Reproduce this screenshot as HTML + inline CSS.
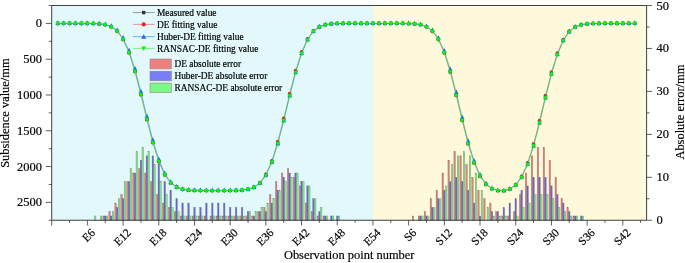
<!DOCTYPE html>
<html lang="en"><head><meta charset="utf-8"><title>Subsidence fitting chart</title>
<style>html,body{margin:0;padding:0;background:#fff;}svg{display:block;}</style></head>
<body>
<svg width="685" height="263" viewBox="0 0 685 263" font-family="'Liberation Serif', 'Times New Roman', serif" fill="#000">
<rect x="0" y="0" width="685" height="263" fill="#fff"/>
<rect x="51.70" y="5.50" width="321.25" height="214.75" fill="#e2f8fb"/>
<rect x="372.95" y="5.50" width="273.65" height="214.75" fill="#fff9dc"/>
<g shape-rendering="auto">
<rect x="94.39" y="215.96" width="1.5" height="4.29" fill="#74f478" stroke="rgba(100,100,100,0.7)" stroke-width="0.4"/>
<rect x="100.34" y="215.96" width="1.5" height="4.29" fill="#74f478" stroke="rgba(100,100,100,0.7)" stroke-width="0.4"/>
<rect x="102.89" y="215.96" width="1.5" height="4.29" fill="#f07a70" stroke="rgba(100,100,100,0.7)" stroke-width="0.4"/>
<rect x="104.49" y="215.96" width="1.5" height="4.29" fill="#6464e0" stroke="rgba(100,100,100,0.7)" stroke-width="0.4"/>
<rect x="106.29" y="215.96" width="1.5" height="4.29" fill="#74f478" stroke="rgba(100,100,100,0.7)" stroke-width="0.4"/>
<rect x="108.84" y="211.66" width="1.5" height="8.59" fill="#f07a70" stroke="rgba(100,100,100,0.7)" stroke-width="0.4"/>
<rect x="110.44" y="215.96" width="1.5" height="4.29" fill="#6464e0" stroke="rgba(100,100,100,0.7)" stroke-width="0.4"/>
<rect x="112.24" y="211.66" width="1.5" height="8.59" fill="#74f478" stroke="rgba(100,100,100,0.7)" stroke-width="0.4"/>
<rect x="114.79" y="203.07" width="1.5" height="17.18" fill="#f07a70" stroke="rgba(100,100,100,0.7)" stroke-width="0.4"/>
<rect x="116.39" y="207.37" width="1.5" height="12.88" fill="#6464e0" stroke="rgba(100,100,100,0.7)" stroke-width="0.4"/>
<rect x="118.19" y="198.78" width="1.5" height="21.47" fill="#74f478" stroke="rgba(100,100,100,0.7)" stroke-width="0.4"/>
<rect x="120.74" y="194.48" width="1.5" height="25.77" fill="#f07a70" stroke="rgba(100,100,100,0.7)" stroke-width="0.4"/>
<rect x="122.34" y="198.78" width="1.5" height="21.47" fill="#6464e0" stroke="rgba(100,100,100,0.7)" stroke-width="0.4"/>
<rect x="124.14" y="181.59" width="1.5" height="38.66" fill="#74f478" stroke="rgba(100,100,100,0.7)" stroke-width="0.4"/>
<rect x="126.69" y="181.59" width="1.5" height="38.66" fill="#f07a70" stroke="rgba(100,100,100,0.7)" stroke-width="0.4"/>
<rect x="128.29" y="181.59" width="1.5" height="38.66" fill="#6464e0" stroke="rgba(100,100,100,0.7)" stroke-width="0.4"/>
<rect x="130.09" y="168.71" width="1.5" height="51.54" fill="#74f478" stroke="rgba(100,100,100,0.7)" stroke-width="0.4"/>
<rect x="132.64" y="173.00" width="1.5" height="47.25" fill="#f07a70" stroke="rgba(100,100,100,0.7)" stroke-width="0.4"/>
<rect x="134.24" y="173.00" width="1.5" height="47.25" fill="#6464e0" stroke="rgba(100,100,100,0.7)" stroke-width="0.4"/>
<rect x="136.04" y="151.53" width="1.5" height="68.72" fill="#74f478" stroke="rgba(100,100,100,0.7)" stroke-width="0.4"/>
<rect x="138.59" y="168.71" width="1.5" height="51.54" fill="#f07a70" stroke="rgba(100,100,100,0.7)" stroke-width="0.4"/>
<rect x="140.19" y="160.12" width="1.5" height="60.13" fill="#6464e0" stroke="rgba(100,100,100,0.7)" stroke-width="0.4"/>
<rect x="141.99" y="147.24" width="1.5" height="73.01" fill="#74f478" stroke="rgba(100,100,100,0.7)" stroke-width="0.4"/>
<rect x="144.53" y="173.00" width="1.5" height="47.25" fill="#f07a70" stroke="rgba(100,100,100,0.7)" stroke-width="0.4"/>
<rect x="146.13" y="155.82" width="1.5" height="64.43" fill="#6464e0" stroke="rgba(100,100,100,0.7)" stroke-width="0.4"/>
<rect x="147.93" y="151.53" width="1.5" height="68.72" fill="#74f478" stroke="rgba(100,100,100,0.7)" stroke-width="0.4"/>
<rect x="150.48" y="181.59" width="1.5" height="38.66" fill="#f07a70" stroke="rgba(100,100,100,0.7)" stroke-width="0.4"/>
<rect x="152.08" y="155.82" width="1.5" height="64.43" fill="#6464e0" stroke="rgba(100,100,100,0.7)" stroke-width="0.4"/>
<rect x="153.88" y="164.41" width="1.5" height="55.84" fill="#74f478" stroke="rgba(100,100,100,0.7)" stroke-width="0.4"/>
<rect x="156.43" y="194.48" width="1.5" height="25.77" fill="#f07a70" stroke="rgba(100,100,100,0.7)" stroke-width="0.4"/>
<rect x="158.03" y="160.12" width="1.5" height="60.13" fill="#6464e0" stroke="rgba(100,100,100,0.7)" stroke-width="0.4"/>
<rect x="159.83" y="181.59" width="1.5" height="38.66" fill="#74f478" stroke="rgba(100,100,100,0.7)" stroke-width="0.4"/>
<rect x="162.38" y="203.07" width="1.5" height="17.18" fill="#f07a70" stroke="rgba(100,100,100,0.7)" stroke-width="0.4"/>
<rect x="163.98" y="181.59" width="1.5" height="38.66" fill="#6464e0" stroke="rgba(100,100,100,0.7)" stroke-width="0.4"/>
<rect x="165.78" y="194.48" width="1.5" height="25.77" fill="#74f478" stroke="rgba(100,100,100,0.7)" stroke-width="0.4"/>
<rect x="168.33" y="207.37" width="1.5" height="12.88" fill="#f07a70" stroke="rgba(100,100,100,0.7)" stroke-width="0.4"/>
<rect x="169.93" y="190.19" width="1.5" height="30.06" fill="#6464e0" stroke="rgba(100,100,100,0.7)" stroke-width="0.4"/>
<rect x="171.73" y="207.37" width="1.5" height="12.88" fill="#74f478" stroke="rgba(100,100,100,0.7)" stroke-width="0.4"/>
<rect x="174.28" y="211.66" width="1.5" height="8.59" fill="#f07a70" stroke="rgba(100,100,100,0.7)" stroke-width="0.4"/>
<rect x="175.88" y="198.78" width="1.5" height="21.47" fill="#6464e0" stroke="rgba(100,100,100,0.7)" stroke-width="0.4"/>
<rect x="177.68" y="211.66" width="1.5" height="8.59" fill="#74f478" stroke="rgba(100,100,100,0.7)" stroke-width="0.4"/>
<rect x="180.23" y="215.96" width="1.5" height="4.29" fill="#f07a70" stroke="rgba(100,100,100,0.7)" stroke-width="0.4"/>
<rect x="181.83" y="203.07" width="1.5" height="17.18" fill="#6464e0" stroke="rgba(100,100,100,0.7)" stroke-width="0.4"/>
<rect x="183.63" y="215.96" width="1.5" height="4.29" fill="#74f478" stroke="rgba(100,100,100,0.7)" stroke-width="0.4"/>
<rect x="186.18" y="215.96" width="1.5" height="4.29" fill="#f07a70" stroke="rgba(100,100,100,0.7)" stroke-width="0.4"/>
<rect x="187.78" y="203.07" width="1.5" height="17.18" fill="#6464e0" stroke="rgba(100,100,100,0.7)" stroke-width="0.4"/>
<rect x="189.58" y="215.96" width="1.5" height="4.29" fill="#74f478" stroke="rgba(100,100,100,0.7)" stroke-width="0.4"/>
<rect x="192.13" y="215.96" width="1.5" height="4.29" fill="#f07a70" stroke="rgba(100,100,100,0.7)" stroke-width="0.4"/>
<rect x="193.73" y="207.37" width="1.5" height="12.88" fill="#6464e0" stroke="rgba(100,100,100,0.7)" stroke-width="0.4"/>
<rect x="195.53" y="215.96" width="1.5" height="4.29" fill="#74f478" stroke="rgba(100,100,100,0.7)" stroke-width="0.4"/>
<rect x="198.08" y="215.96" width="1.5" height="4.29" fill="#f07a70" stroke="rgba(100,100,100,0.7)" stroke-width="0.4"/>
<rect x="199.68" y="207.37" width="1.5" height="12.88" fill="#6464e0" stroke="rgba(100,100,100,0.7)" stroke-width="0.4"/>
<rect x="201.48" y="215.96" width="1.5" height="4.29" fill="#74f478" stroke="rgba(100,100,100,0.7)" stroke-width="0.4"/>
<rect x="204.02" y="215.96" width="1.5" height="4.29" fill="#f07a70" stroke="rgba(100,100,100,0.7)" stroke-width="0.4"/>
<rect x="205.62" y="203.07" width="1.5" height="17.18" fill="#6464e0" stroke="rgba(100,100,100,0.7)" stroke-width="0.4"/>
<rect x="209.97" y="215.96" width="1.5" height="4.29" fill="#f07a70" stroke="rgba(100,100,100,0.7)" stroke-width="0.4"/>
<rect x="211.57" y="203.07" width="1.5" height="17.18" fill="#6464e0" stroke="rgba(100,100,100,0.7)" stroke-width="0.4"/>
<rect x="213.37" y="215.96" width="1.5" height="4.29" fill="#74f478" stroke="rgba(100,100,100,0.7)" stroke-width="0.4"/>
<rect x="215.92" y="215.96" width="1.5" height="4.29" fill="#f07a70" stroke="rgba(100,100,100,0.7)" stroke-width="0.4"/>
<rect x="217.52" y="203.07" width="1.5" height="17.18" fill="#6464e0" stroke="rgba(100,100,100,0.7)" stroke-width="0.4"/>
<rect x="219.32" y="215.96" width="1.5" height="4.29" fill="#74f478" stroke="rgba(100,100,100,0.7)" stroke-width="0.4"/>
<rect x="221.87" y="215.96" width="1.5" height="4.29" fill="#f07a70" stroke="rgba(100,100,100,0.7)" stroke-width="0.4"/>
<rect x="223.47" y="203.07" width="1.5" height="17.18" fill="#6464e0" stroke="rgba(100,100,100,0.7)" stroke-width="0.4"/>
<rect x="225.27" y="215.96" width="1.5" height="4.29" fill="#74f478" stroke="rgba(100,100,100,0.7)" stroke-width="0.4"/>
<rect x="227.82" y="215.96" width="1.5" height="4.29" fill="#f07a70" stroke="rgba(100,100,100,0.7)" stroke-width="0.4"/>
<rect x="229.42" y="207.37" width="1.5" height="12.88" fill="#6464e0" stroke="rgba(100,100,100,0.7)" stroke-width="0.4"/>
<rect x="231.22" y="215.96" width="1.5" height="4.29" fill="#74f478" stroke="rgba(100,100,100,0.7)" stroke-width="0.4"/>
<rect x="233.77" y="215.96" width="1.5" height="4.29" fill="#f07a70" stroke="rgba(100,100,100,0.7)" stroke-width="0.4"/>
<rect x="235.37" y="207.37" width="1.5" height="12.88" fill="#6464e0" stroke="rgba(100,100,100,0.7)" stroke-width="0.4"/>
<rect x="237.17" y="215.96" width="1.5" height="4.29" fill="#74f478" stroke="rgba(100,100,100,0.7)" stroke-width="0.4"/>
<rect x="239.72" y="215.96" width="1.5" height="4.29" fill="#f07a70" stroke="rgba(100,100,100,0.7)" stroke-width="0.4"/>
<rect x="241.32" y="207.37" width="1.5" height="12.88" fill="#6464e0" stroke="rgba(100,100,100,0.7)" stroke-width="0.4"/>
<rect x="243.12" y="215.96" width="1.5" height="4.29" fill="#74f478" stroke="rgba(100,100,100,0.7)" stroke-width="0.4"/>
<rect x="245.67" y="215.96" width="1.5" height="4.29" fill="#f07a70" stroke="rgba(100,100,100,0.7)" stroke-width="0.4"/>
<rect x="247.27" y="211.66" width="1.5" height="8.59" fill="#6464e0" stroke="rgba(100,100,100,0.7)" stroke-width="0.4"/>
<rect x="249.07" y="211.66" width="1.5" height="8.59" fill="#74f478" stroke="rgba(100,100,100,0.7)" stroke-width="0.4"/>
<rect x="251.62" y="215.96" width="1.5" height="4.29" fill="#f07a70" stroke="rgba(100,100,100,0.7)" stroke-width="0.4"/>
<rect x="253.22" y="215.96" width="1.5" height="4.29" fill="#6464e0" stroke="rgba(100,100,100,0.7)" stroke-width="0.4"/>
<rect x="255.02" y="211.66" width="1.5" height="8.59" fill="#74f478" stroke="rgba(100,100,100,0.7)" stroke-width="0.4"/>
<rect x="257.56" y="211.66" width="1.5" height="8.59" fill="#f07a70" stroke="rgba(100,100,100,0.7)" stroke-width="0.4"/>
<rect x="259.17" y="211.66" width="1.5" height="8.59" fill="#6464e0" stroke="rgba(100,100,100,0.7)" stroke-width="0.4"/>
<rect x="260.97" y="207.37" width="1.5" height="12.88" fill="#74f478" stroke="rgba(100,100,100,0.7)" stroke-width="0.4"/>
<rect x="263.51" y="207.37" width="1.5" height="12.88" fill="#f07a70" stroke="rgba(100,100,100,0.7)" stroke-width="0.4"/>
<rect x="265.11" y="211.66" width="1.5" height="8.59" fill="#6464e0" stroke="rgba(100,100,100,0.7)" stroke-width="0.4"/>
<rect x="266.91" y="203.07" width="1.5" height="17.18" fill="#74f478" stroke="rgba(100,100,100,0.7)" stroke-width="0.4"/>
<rect x="269.46" y="194.48" width="1.5" height="25.77" fill="#f07a70" stroke="rgba(100,100,100,0.7)" stroke-width="0.4"/>
<rect x="271.06" y="203.07" width="1.5" height="17.18" fill="#6464e0" stroke="rgba(100,100,100,0.7)" stroke-width="0.4"/>
<rect x="272.86" y="198.78" width="1.5" height="21.47" fill="#74f478" stroke="rgba(100,100,100,0.7)" stroke-width="0.4"/>
<rect x="275.41" y="181.59" width="1.5" height="38.66" fill="#f07a70" stroke="rgba(100,100,100,0.7)" stroke-width="0.4"/>
<rect x="277.01" y="190.19" width="1.5" height="30.06" fill="#6464e0" stroke="rgba(100,100,100,0.7)" stroke-width="0.4"/>
<rect x="278.81" y="190.19" width="1.5" height="30.06" fill="#74f478" stroke="rgba(100,100,100,0.7)" stroke-width="0.4"/>
<rect x="281.36" y="173.00" width="1.5" height="47.25" fill="#f07a70" stroke="rgba(100,100,100,0.7)" stroke-width="0.4"/>
<rect x="282.96" y="177.30" width="1.5" height="42.95" fill="#6464e0" stroke="rgba(100,100,100,0.7)" stroke-width="0.4"/>
<rect x="284.76" y="181.59" width="1.5" height="38.66" fill="#74f478" stroke="rgba(100,100,100,0.7)" stroke-width="0.4"/>
<rect x="287.31" y="168.71" width="1.5" height="51.54" fill="#f07a70" stroke="rgba(100,100,100,0.7)" stroke-width="0.4"/>
<rect x="288.91" y="173.00" width="1.5" height="47.25" fill="#6464e0" stroke="rgba(100,100,100,0.7)" stroke-width="0.4"/>
<rect x="290.71" y="177.30" width="1.5" height="42.95" fill="#74f478" stroke="rgba(100,100,100,0.7)" stroke-width="0.4"/>
<rect x="293.26" y="177.30" width="1.5" height="42.95" fill="#f07a70" stroke="rgba(100,100,100,0.7)" stroke-width="0.4"/>
<rect x="294.86" y="173.00" width="1.5" height="47.25" fill="#6464e0" stroke="rgba(100,100,100,0.7)" stroke-width="0.4"/>
<rect x="296.66" y="173.00" width="1.5" height="47.25" fill="#74f478" stroke="rgba(100,100,100,0.7)" stroke-width="0.4"/>
<rect x="299.21" y="185.89" width="1.5" height="34.36" fill="#f07a70" stroke="rgba(100,100,100,0.7)" stroke-width="0.4"/>
<rect x="300.81" y="181.59" width="1.5" height="38.66" fill="#6464e0" stroke="rgba(100,100,100,0.7)" stroke-width="0.4"/>
<rect x="302.61" y="181.59" width="1.5" height="38.66" fill="#74f478" stroke="rgba(100,100,100,0.7)" stroke-width="0.4"/>
<rect x="305.16" y="203.07" width="1.5" height="17.18" fill="#f07a70" stroke="rgba(100,100,100,0.7)" stroke-width="0.4"/>
<rect x="306.76" y="185.89" width="1.5" height="34.36" fill="#6464e0" stroke="rgba(100,100,100,0.7)" stroke-width="0.4"/>
<rect x="308.56" y="185.89" width="1.5" height="34.36" fill="#74f478" stroke="rgba(100,100,100,0.7)" stroke-width="0.4"/>
<rect x="311.11" y="211.66" width="1.5" height="8.59" fill="#f07a70" stroke="rgba(100,100,100,0.7)" stroke-width="0.4"/>
<rect x="312.71" y="198.78" width="1.5" height="21.47" fill="#6464e0" stroke="rgba(100,100,100,0.7)" stroke-width="0.4"/>
<rect x="314.51" y="198.78" width="1.5" height="21.47" fill="#74f478" stroke="rgba(100,100,100,0.7)" stroke-width="0.4"/>
<rect x="317.05" y="215.96" width="1.5" height="4.29" fill="#f07a70" stroke="rgba(100,100,100,0.7)" stroke-width="0.4"/>
<rect x="318.65" y="211.66" width="1.5" height="8.59" fill="#6464e0" stroke="rgba(100,100,100,0.7)" stroke-width="0.4"/>
<rect x="320.45" y="207.37" width="1.5" height="12.88" fill="#74f478" stroke="rgba(100,100,100,0.7)" stroke-width="0.4"/>
<rect x="323.00" y="215.96" width="1.5" height="4.29" fill="#f07a70" stroke="rgba(100,100,100,0.7)" stroke-width="0.4"/>
<rect x="324.60" y="215.96" width="1.5" height="4.29" fill="#6464e0" stroke="rgba(100,100,100,0.7)" stroke-width="0.4"/>
<rect x="326.40" y="215.96" width="1.5" height="4.29" fill="#74f478" stroke="rgba(100,100,100,0.7)" stroke-width="0.4"/>
<rect x="330.55" y="215.96" width="1.5" height="4.29" fill="#6464e0" stroke="rgba(100,100,100,0.7)" stroke-width="0.4"/>
<rect x="332.35" y="215.96" width="1.5" height="4.29" fill="#74f478" stroke="rgba(100,100,100,0.7)" stroke-width="0.4"/>
<rect x="336.50" y="215.96" width="1.5" height="4.29" fill="#6464e0" stroke="rgba(100,100,100,0.7)" stroke-width="0.4"/>
<rect x="338.30" y="215.96" width="1.5" height="4.29" fill="#74f478" stroke="rgba(100,100,100,0.7)" stroke-width="0.4"/>
<rect x="412.24" y="215.96" width="1.5" height="4.29" fill="#f07a70" stroke="rgba(100,100,100,0.7)" stroke-width="0.4"/>
<rect x="418.19" y="215.96" width="1.5" height="4.29" fill="#f07a70" stroke="rgba(100,100,100,0.7)" stroke-width="0.4"/>
<rect x="419.79" y="215.96" width="1.5" height="4.29" fill="#6464e0" stroke="rgba(100,100,100,0.7)" stroke-width="0.4"/>
<rect x="421.59" y="215.96" width="1.5" height="4.29" fill="#74f478" stroke="rgba(100,100,100,0.7)" stroke-width="0.4"/>
<rect x="424.14" y="211.66" width="1.5" height="8.59" fill="#f07a70" stroke="rgba(100,100,100,0.7)" stroke-width="0.4"/>
<rect x="425.74" y="215.96" width="1.5" height="4.29" fill="#6464e0" stroke="rgba(100,100,100,0.7)" stroke-width="0.4"/>
<rect x="427.54" y="215.96" width="1.5" height="4.29" fill="#74f478" stroke="rgba(100,100,100,0.7)" stroke-width="0.4"/>
<rect x="430.09" y="198.78" width="1.5" height="21.47" fill="#f07a70" stroke="rgba(100,100,100,0.7)" stroke-width="0.4"/>
<rect x="431.69" y="207.37" width="1.5" height="12.88" fill="#6464e0" stroke="rgba(100,100,100,0.7)" stroke-width="0.4"/>
<rect x="433.49" y="207.37" width="1.5" height="12.88" fill="#74f478" stroke="rgba(100,100,100,0.7)" stroke-width="0.4"/>
<rect x="436.03" y="190.19" width="1.5" height="30.06" fill="#f07a70" stroke="rgba(100,100,100,0.7)" stroke-width="0.4"/>
<rect x="437.63" y="198.78" width="1.5" height="21.47" fill="#6464e0" stroke="rgba(100,100,100,0.7)" stroke-width="0.4"/>
<rect x="439.44" y="198.78" width="1.5" height="21.47" fill="#74f478" stroke="rgba(100,100,100,0.7)" stroke-width="0.4"/>
<rect x="441.98" y="173.00" width="1.5" height="47.25" fill="#f07a70" stroke="rgba(100,100,100,0.7)" stroke-width="0.4"/>
<rect x="443.58" y="190.19" width="1.5" height="30.06" fill="#6464e0" stroke="rgba(100,100,100,0.7)" stroke-width="0.4"/>
<rect x="445.38" y="185.89" width="1.5" height="34.36" fill="#74f478" stroke="rgba(100,100,100,0.7)" stroke-width="0.4"/>
<rect x="447.93" y="160.12" width="1.5" height="60.13" fill="#f07a70" stroke="rgba(100,100,100,0.7)" stroke-width="0.4"/>
<rect x="449.53" y="181.59" width="1.5" height="38.66" fill="#6464e0" stroke="rgba(100,100,100,0.7)" stroke-width="0.4"/>
<rect x="451.33" y="164.41" width="1.5" height="55.84" fill="#74f478" stroke="rgba(100,100,100,0.7)" stroke-width="0.4"/>
<rect x="453.88" y="151.53" width="1.5" height="68.72" fill="#f07a70" stroke="rgba(100,100,100,0.7)" stroke-width="0.4"/>
<rect x="455.48" y="177.30" width="1.5" height="42.95" fill="#6464e0" stroke="rgba(100,100,100,0.7)" stroke-width="0.4"/>
<rect x="457.28" y="155.82" width="1.5" height="64.43" fill="#74f478" stroke="rgba(100,100,100,0.7)" stroke-width="0.4"/>
<rect x="459.83" y="155.82" width="1.5" height="64.43" fill="#f07a70" stroke="rgba(100,100,100,0.7)" stroke-width="0.4"/>
<rect x="461.43" y="181.59" width="1.5" height="38.66" fill="#6464e0" stroke="rgba(100,100,100,0.7)" stroke-width="0.4"/>
<rect x="463.23" y="151.53" width="1.5" height="68.72" fill="#74f478" stroke="rgba(100,100,100,0.7)" stroke-width="0.4"/>
<rect x="465.78" y="164.41" width="1.5" height="55.84" fill="#f07a70" stroke="rgba(100,100,100,0.7)" stroke-width="0.4"/>
<rect x="467.38" y="190.19" width="1.5" height="30.06" fill="#6464e0" stroke="rgba(100,100,100,0.7)" stroke-width="0.4"/>
<rect x="469.18" y="155.82" width="1.5" height="64.43" fill="#74f478" stroke="rgba(100,100,100,0.7)" stroke-width="0.4"/>
<rect x="471.73" y="177.30" width="1.5" height="42.95" fill="#f07a70" stroke="rgba(100,100,100,0.7)" stroke-width="0.4"/>
<rect x="473.33" y="203.07" width="1.5" height="17.18" fill="#6464e0" stroke="rgba(100,100,100,0.7)" stroke-width="0.4"/>
<rect x="475.13" y="173.00" width="1.5" height="47.25" fill="#74f478" stroke="rgba(100,100,100,0.7)" stroke-width="0.4"/>
<rect x="477.68" y="190.19" width="1.5" height="30.06" fill="#f07a70" stroke="rgba(100,100,100,0.7)" stroke-width="0.4"/>
<rect x="479.28" y="215.96" width="1.5" height="4.29" fill="#6464e0" stroke="rgba(100,100,100,0.7)" stroke-width="0.4"/>
<rect x="481.08" y="190.19" width="1.5" height="30.06" fill="#74f478" stroke="rgba(100,100,100,0.7)" stroke-width="0.4"/>
<rect x="483.63" y="198.78" width="1.5" height="21.47" fill="#f07a70" stroke="rgba(100,100,100,0.7)" stroke-width="0.4"/>
<rect x="487.03" y="207.37" width="1.5" height="12.88" fill="#74f478" stroke="rgba(100,100,100,0.7)" stroke-width="0.4"/>
<rect x="489.58" y="203.07" width="1.5" height="17.18" fill="#f07a70" stroke="rgba(100,100,100,0.7)" stroke-width="0.4"/>
<rect x="491.18" y="211.66" width="1.5" height="8.59" fill="#6464e0" stroke="rgba(100,100,100,0.7)" stroke-width="0.4"/>
<rect x="492.98" y="215.96" width="1.5" height="4.29" fill="#74f478" stroke="rgba(100,100,100,0.7)" stroke-width="0.4"/>
<rect x="495.52" y="211.66" width="1.5" height="8.59" fill="#f07a70" stroke="rgba(100,100,100,0.7)" stroke-width="0.4"/>
<rect x="497.12" y="211.66" width="1.5" height="8.59" fill="#6464e0" stroke="rgba(100,100,100,0.7)" stroke-width="0.4"/>
<rect x="498.93" y="215.96" width="1.5" height="4.29" fill="#74f478" stroke="rgba(100,100,100,0.7)" stroke-width="0.4"/>
<rect x="501.47" y="215.96" width="1.5" height="4.29" fill="#f07a70" stroke="rgba(100,100,100,0.7)" stroke-width="0.4"/>
<rect x="503.07" y="207.37" width="1.5" height="12.88" fill="#6464e0" stroke="rgba(100,100,100,0.7)" stroke-width="0.4"/>
<rect x="504.87" y="215.96" width="1.5" height="4.29" fill="#74f478" stroke="rgba(100,100,100,0.7)" stroke-width="0.4"/>
<rect x="507.42" y="215.96" width="1.5" height="4.29" fill="#f07a70" stroke="rgba(100,100,100,0.7)" stroke-width="0.4"/>
<rect x="509.02" y="203.07" width="1.5" height="17.18" fill="#6464e0" stroke="rgba(100,100,100,0.7)" stroke-width="0.4"/>
<rect x="513.37" y="211.66" width="1.5" height="8.59" fill="#f07a70" stroke="rgba(100,100,100,0.7)" stroke-width="0.4"/>
<rect x="514.97" y="198.78" width="1.5" height="21.47" fill="#6464e0" stroke="rgba(100,100,100,0.7)" stroke-width="0.4"/>
<rect x="516.77" y="215.96" width="1.5" height="4.29" fill="#74f478" stroke="rgba(100,100,100,0.7)" stroke-width="0.4"/>
<rect x="519.32" y="194.48" width="1.5" height="25.77" fill="#f07a70" stroke="rgba(100,100,100,0.7)" stroke-width="0.4"/>
<rect x="520.92" y="190.19" width="1.5" height="30.06" fill="#6464e0" stroke="rgba(100,100,100,0.7)" stroke-width="0.4"/>
<rect x="522.72" y="207.37" width="1.5" height="12.88" fill="#74f478" stroke="rgba(100,100,100,0.7)" stroke-width="0.4"/>
<rect x="525.27" y="173.00" width="1.5" height="47.25" fill="#f07a70" stroke="rgba(100,100,100,0.7)" stroke-width="0.4"/>
<rect x="526.87" y="185.89" width="1.5" height="34.36" fill="#6464e0" stroke="rgba(100,100,100,0.7)" stroke-width="0.4"/>
<rect x="528.67" y="203.07" width="1.5" height="17.18" fill="#74f478" stroke="rgba(100,100,100,0.7)" stroke-width="0.4"/>
<rect x="531.22" y="155.82" width="1.5" height="64.43" fill="#f07a70" stroke="rgba(100,100,100,0.7)" stroke-width="0.4"/>
<rect x="532.82" y="177.30" width="1.5" height="42.95" fill="#6464e0" stroke="rgba(100,100,100,0.7)" stroke-width="0.4"/>
<rect x="534.62" y="194.48" width="1.5" height="25.77" fill="#74f478" stroke="rgba(100,100,100,0.7)" stroke-width="0.4"/>
<rect x="537.17" y="147.24" width="1.5" height="73.01" fill="#f07a70" stroke="rgba(100,100,100,0.7)" stroke-width="0.4"/>
<rect x="538.77" y="177.30" width="1.5" height="42.95" fill="#6464e0" stroke="rgba(100,100,100,0.7)" stroke-width="0.4"/>
<rect x="540.57" y="194.48" width="1.5" height="25.77" fill="#74f478" stroke="rgba(100,100,100,0.7)" stroke-width="0.4"/>
<rect x="543.12" y="147.24" width="1.5" height="73.01" fill="#f07a70" stroke="rgba(100,100,100,0.7)" stroke-width="0.4"/>
<rect x="544.72" y="177.30" width="1.5" height="42.95" fill="#6464e0" stroke="rgba(100,100,100,0.7)" stroke-width="0.4"/>
<rect x="546.52" y="194.48" width="1.5" height="25.77" fill="#74f478" stroke="rgba(100,100,100,0.7)" stroke-width="0.4"/>
<rect x="549.07" y="160.12" width="1.5" height="60.13" fill="#f07a70" stroke="rgba(100,100,100,0.7)" stroke-width="0.4"/>
<rect x="550.67" y="185.89" width="1.5" height="34.36" fill="#6464e0" stroke="rgba(100,100,100,0.7)" stroke-width="0.4"/>
<rect x="552.47" y="198.78" width="1.5" height="21.47" fill="#74f478" stroke="rgba(100,100,100,0.7)" stroke-width="0.4"/>
<rect x="555.01" y="177.30" width="1.5" height="42.95" fill="#f07a70" stroke="rgba(100,100,100,0.7)" stroke-width="0.4"/>
<rect x="556.62" y="194.48" width="1.5" height="25.77" fill="#6464e0" stroke="rgba(100,100,100,0.7)" stroke-width="0.4"/>
<rect x="558.41" y="207.37" width="1.5" height="12.88" fill="#74f478" stroke="rgba(100,100,100,0.7)" stroke-width="0.4"/>
<rect x="560.96" y="198.78" width="1.5" height="21.47" fill="#f07a70" stroke="rgba(100,100,100,0.7)" stroke-width="0.4"/>
<rect x="562.56" y="203.07" width="1.5" height="17.18" fill="#6464e0" stroke="rgba(100,100,100,0.7)" stroke-width="0.4"/>
<rect x="564.36" y="211.66" width="1.5" height="8.59" fill="#74f478" stroke="rgba(100,100,100,0.7)" stroke-width="0.4"/>
<rect x="566.91" y="207.37" width="1.5" height="12.88" fill="#f07a70" stroke="rgba(100,100,100,0.7)" stroke-width="0.4"/>
<rect x="568.51" y="211.66" width="1.5" height="8.59" fill="#6464e0" stroke="rgba(100,100,100,0.7)" stroke-width="0.4"/>
<rect x="570.31" y="215.96" width="1.5" height="4.29" fill="#74f478" stroke="rgba(100,100,100,0.7)" stroke-width="0.4"/>
<rect x="572.86" y="215.96" width="1.5" height="4.29" fill="#f07a70" stroke="rgba(100,100,100,0.7)" stroke-width="0.4"/>
<rect x="574.46" y="215.96" width="1.5" height="4.29" fill="#6464e0" stroke="rgba(100,100,100,0.7)" stroke-width="0.4"/>
<rect x="576.26" y="215.96" width="1.5" height="4.29" fill="#74f478" stroke="rgba(100,100,100,0.7)" stroke-width="0.4"/>
<rect x="580.41" y="215.96" width="1.5" height="4.29" fill="#6464e0" stroke="rgba(100,100,100,0.7)" stroke-width="0.4"/>
<rect x="582.21" y="215.96" width="1.5" height="4.29" fill="#74f478" stroke="rgba(100,100,100,0.7)" stroke-width="0.4"/>
</g>
<path d="M57.65,23.42 L63.60,23.39 L69.55,23.37 L75.50,23.41 L81.44,23.43 L87.39,23.41 L93.34,23.50 L99.29,23.84 L105.24,24.65 L111.19,26.66 L117.14,31.07 L123.09,39.41 L129.04,52.56 L134.99,71.25 L140.94,94.61 L146.88,119.51 L152.83,142.47 L158.78,161.26 L164.73,174.78 L170.68,182.94 L176.63,187.12 L182.58,189.29 L188.53,190.16 L194.48,190.42 L200.43,190.48 L206.37,190.54 L212.32,190.57 L218.27,190.53 L224.22,190.51 L230.17,190.53 L236.12,190.45 L242.07,190.13 L248.02,189.35 L253.97,187.53 L259.92,183.19 L265.86,175.05 L271.81,162.18 L277.76,143.75 L283.71,120.56 L289.66,95.66 L295.61,72.54 L301.56,53.49 L307.51,39.70 L313.46,31.37 L319.40,26.87 L325.35,24.72 L331.30,23.81 L337.25,23.52 L343.20,23.46 L349.15,23.40 L355.10,23.37 L361.05,23.41 L367.00,23.42 L372.95,23.38 L378.89,23.38 L384.84,23.42 L390.79,23.41 L396.74,23.38 L402.69,23.42 L408.64,23.55 L414.59,23.81 L420.54,24.63 L426.49,26.73 L432.44,31.18 L438.38,39.35 L444.33,52.75 L450.28,71.96 L456.23,95.34 L462.18,120.20 L468.13,143.67 L474.08,162.86 L480.03,176.17 L485.98,184.26 L491.93,188.76 L497.88,190.59 L503.82,190.62 L509.77,189.01 L515.72,185.08 L521.67,177.30 L527.62,164.21 L533.57,145.78 L539.52,122.93 L545.47,97.78 L551.42,73.90 L557.37,54.51 L563.31,40.66 L569.26,31.77 L575.21,27.01 L581.16,24.80 L587.11,23.89 L593.06,23.52 L599.01,23.41 L604.96,23.43 L610.91,23.41 L616.86,23.37 L622.80,23.39 L628.75,23.42 L634.70,23.39" fill="none" stroke="#888" stroke-width="0.15"/>
<rect x="56.05" y="21.82" width="3.20" height="3.20" fill="#333"/>
<rect x="62.00" y="21.79" width="3.20" height="3.20" fill="#333"/>
<rect x="67.95" y="21.77" width="3.20" height="3.20" fill="#333"/>
<rect x="73.90" y="21.81" width="3.20" height="3.20" fill="#333"/>
<rect x="79.84" y="21.83" width="3.20" height="3.20" fill="#333"/>
<rect x="85.79" y="21.81" width="3.20" height="3.20" fill="#333"/>
<rect x="91.74" y="21.90" width="3.20" height="3.20" fill="#333"/>
<rect x="97.69" y="22.24" width="3.20" height="3.20" fill="#333"/>
<rect x="103.64" y="23.05" width="3.20" height="3.20" fill="#333"/>
<rect x="109.59" y="25.06" width="3.20" height="3.20" fill="#333"/>
<rect x="115.54" y="29.47" width="3.20" height="3.20" fill="#333"/>
<rect x="121.49" y="37.81" width="3.20" height="3.20" fill="#333"/>
<rect x="127.44" y="50.96" width="3.20" height="3.20" fill="#333"/>
<rect x="133.39" y="69.65" width="3.20" height="3.20" fill="#333"/>
<rect x="139.34" y="93.01" width="3.20" height="3.20" fill="#333"/>
<rect x="145.28" y="117.91" width="3.20" height="3.20" fill="#333"/>
<rect x="151.23" y="140.87" width="3.20" height="3.20" fill="#333"/>
<rect x="157.18" y="159.66" width="3.20" height="3.20" fill="#333"/>
<rect x="163.13" y="173.18" width="3.20" height="3.20" fill="#333"/>
<rect x="169.08" y="181.34" width="3.20" height="3.20" fill="#333"/>
<rect x="175.03" y="185.52" width="3.20" height="3.20" fill="#333"/>
<rect x="180.98" y="187.69" width="3.20" height="3.20" fill="#333"/>
<rect x="186.93" y="188.56" width="3.20" height="3.20" fill="#333"/>
<rect x="192.88" y="188.82" width="3.20" height="3.20" fill="#333"/>
<rect x="198.83" y="188.88" width="3.20" height="3.20" fill="#333"/>
<rect x="204.77" y="188.94" width="3.20" height="3.20" fill="#333"/>
<rect x="210.72" y="188.97" width="3.20" height="3.20" fill="#333"/>
<rect x="216.67" y="188.93" width="3.20" height="3.20" fill="#333"/>
<rect x="222.62" y="188.91" width="3.20" height="3.20" fill="#333"/>
<rect x="228.57" y="188.93" width="3.20" height="3.20" fill="#333"/>
<rect x="234.52" y="188.85" width="3.20" height="3.20" fill="#333"/>
<rect x="240.47" y="188.53" width="3.20" height="3.20" fill="#333"/>
<rect x="246.42" y="187.75" width="3.20" height="3.20" fill="#333"/>
<rect x="252.37" y="185.93" width="3.20" height="3.20" fill="#333"/>
<rect x="258.31" y="181.59" width="3.20" height="3.20" fill="#333"/>
<rect x="264.26" y="173.45" width="3.20" height="3.20" fill="#333"/>
<rect x="270.21" y="160.58" width="3.20" height="3.20" fill="#333"/>
<rect x="276.16" y="142.15" width="3.20" height="3.20" fill="#333"/>
<rect x="282.11" y="118.96" width="3.20" height="3.20" fill="#333"/>
<rect x="288.06" y="94.06" width="3.20" height="3.20" fill="#333"/>
<rect x="294.01" y="70.94" width="3.20" height="3.20" fill="#333"/>
<rect x="299.96" y="51.89" width="3.20" height="3.20" fill="#333"/>
<rect x="305.91" y="38.10" width="3.20" height="3.20" fill="#333"/>
<rect x="311.86" y="29.77" width="3.20" height="3.20" fill="#333"/>
<rect x="317.80" y="25.27" width="3.20" height="3.20" fill="#333"/>
<rect x="323.75" y="23.12" width="3.20" height="3.20" fill="#333"/>
<rect x="329.70" y="22.21" width="3.20" height="3.20" fill="#333"/>
<rect x="335.65" y="21.92" width="3.20" height="3.20" fill="#333"/>
<rect x="341.60" y="21.86" width="3.20" height="3.20" fill="#333"/>
<rect x="347.55" y="21.80" width="3.20" height="3.20" fill="#333"/>
<rect x="353.50" y="21.77" width="3.20" height="3.20" fill="#333"/>
<rect x="359.45" y="21.81" width="3.20" height="3.20" fill="#333"/>
<rect x="365.40" y="21.82" width="3.20" height="3.20" fill="#333"/>
<rect x="371.35" y="21.78" width="3.20" height="3.20" fill="#333"/>
<rect x="377.29" y="21.78" width="3.20" height="3.20" fill="#333"/>
<rect x="383.24" y="21.82" width="3.20" height="3.20" fill="#333"/>
<rect x="389.19" y="21.81" width="3.20" height="3.20" fill="#333"/>
<rect x="395.14" y="21.78" width="3.20" height="3.20" fill="#333"/>
<rect x="401.09" y="21.82" width="3.20" height="3.20" fill="#333"/>
<rect x="407.04" y="21.95" width="3.20" height="3.20" fill="#333"/>
<rect x="412.99" y="22.21" width="3.20" height="3.20" fill="#333"/>
<rect x="418.94" y="23.03" width="3.20" height="3.20" fill="#333"/>
<rect x="424.89" y="25.13" width="3.20" height="3.20" fill="#333"/>
<rect x="430.84" y="29.58" width="3.20" height="3.20" fill="#333"/>
<rect x="436.78" y="37.75" width="3.20" height="3.20" fill="#333"/>
<rect x="442.73" y="51.15" width="3.20" height="3.20" fill="#333"/>
<rect x="448.68" y="70.36" width="3.20" height="3.20" fill="#333"/>
<rect x="454.63" y="93.74" width="3.20" height="3.20" fill="#333"/>
<rect x="460.58" y="118.60" width="3.20" height="3.20" fill="#333"/>
<rect x="466.53" y="142.07" width="3.20" height="3.20" fill="#333"/>
<rect x="472.48" y="161.26" width="3.20" height="3.20" fill="#333"/>
<rect x="478.43" y="174.57" width="3.20" height="3.20" fill="#333"/>
<rect x="484.38" y="182.66" width="3.20" height="3.20" fill="#333"/>
<rect x="490.33" y="187.16" width="3.20" height="3.20" fill="#333"/>
<rect x="496.27" y="188.99" width="3.20" height="3.20" fill="#333"/>
<rect x="502.22" y="189.02" width="3.20" height="3.20" fill="#333"/>
<rect x="508.17" y="187.41" width="3.20" height="3.20" fill="#333"/>
<rect x="514.12" y="183.48" width="3.20" height="3.20" fill="#333"/>
<rect x="520.07" y="175.70" width="3.20" height="3.20" fill="#333"/>
<rect x="526.02" y="162.61" width="3.20" height="3.20" fill="#333"/>
<rect x="531.97" y="144.18" width="3.20" height="3.20" fill="#333"/>
<rect x="537.92" y="121.33" width="3.20" height="3.20" fill="#333"/>
<rect x="543.87" y="96.18" width="3.20" height="3.20" fill="#333"/>
<rect x="549.82" y="72.30" width="3.20" height="3.20" fill="#333"/>
<rect x="555.76" y="52.91" width="3.20" height="3.20" fill="#333"/>
<rect x="561.71" y="39.06" width="3.20" height="3.20" fill="#333"/>
<rect x="567.66" y="30.17" width="3.20" height="3.20" fill="#333"/>
<rect x="573.61" y="25.41" width="3.20" height="3.20" fill="#333"/>
<rect x="579.56" y="23.20" width="3.20" height="3.20" fill="#333"/>
<rect x="585.51" y="22.29" width="3.20" height="3.20" fill="#333"/>
<rect x="591.46" y="21.92" width="3.20" height="3.20" fill="#333"/>
<rect x="597.41" y="21.81" width="3.20" height="3.20" fill="#333"/>
<rect x="603.36" y="21.83" width="3.20" height="3.20" fill="#333"/>
<rect x="609.31" y="21.81" width="3.20" height="3.20" fill="#333"/>
<rect x="615.25" y="21.77" width="3.20" height="3.20" fill="#333"/>
<rect x="621.20" y="21.79" width="3.20" height="3.20" fill="#333"/>
<rect x="627.15" y="21.82" width="3.20" height="3.20" fill="#333"/>
<rect x="633.10" y="21.79" width="3.20" height="3.20" fill="#333"/>
<path d="M57.65,23.40 L63.60,23.40 L69.55,23.40 L75.50,23.40 L81.44,23.40 L87.39,23.43 L93.34,23.52 L99.29,23.81 L105.24,24.64 L111.19,26.69 L117.14,31.08 L123.09,39.27 L129.04,52.57 L134.99,71.39 L140.94,94.55 L146.88,119.38 L152.83,142.55 L158.78,161.37 L164.73,174.67 L170.68,182.86 L176.63,187.25 L182.58,189.30 L188.53,190.13 L194.48,190.42 L200.43,190.51 L206.37,190.54 L212.32,190.54 L218.27,190.54 L224.22,190.54 L230.17,190.51 L236.12,190.42 L242.07,190.11 L248.02,189.25 L253.97,187.14 L259.92,182.63 L265.86,174.27 L271.81,160.74 L277.76,141.71 L283.71,118.41 L289.66,93.57 L295.61,70.52 L301.56,51.91 L307.51,38.83 L313.46,30.82 L319.40,26.56 L325.35,24.59 L331.30,23.79 L337.25,23.51 L343.20,23.43 L349.15,23.40 L355.10,23.40 L361.05,23.40 L367.00,23.40 L372.95,23.40 L378.89,23.40 L384.84,23.40 L390.79,23.40 L396.74,23.40 L402.69,23.43 L408.64,23.52 L414.59,23.82 L420.54,24.65 L426.49,26.72 L432.44,31.15 L438.38,39.42 L444.33,52.86 L450.28,71.86 L456.23,95.26 L462.18,120.33 L468.13,143.72 L474.08,162.72 L480.03,176.16 L485.98,184.40 L491.93,188.76 L497.88,190.56 L503.82,190.57 L509.77,188.79 L515.72,184.48 L521.67,176.28 L527.62,162.91 L533.57,143.96 L539.52,120.59 L545.47,95.50 L551.42,72.06 L557.37,53.00 L563.31,39.51 L569.26,31.20 L575.21,26.74 L581.16,24.66 L587.11,23.82 L593.06,23.52 L599.01,23.43 L604.96,23.40 L610.91,23.40 L616.86,23.40 L622.80,23.40 L628.75,23.40 L634.70,23.40" fill="none" stroke="#f04040" stroke-width="0.40"/>
<circle cx="57.65" cy="23.40" r="1.85" fill="#f02020"/>
<circle cx="63.60" cy="23.40" r="1.85" fill="#f02020"/>
<circle cx="69.55" cy="23.40" r="1.85" fill="#f02020"/>
<circle cx="75.50" cy="23.40" r="1.85" fill="#f02020"/>
<circle cx="81.44" cy="23.40" r="1.85" fill="#f02020"/>
<circle cx="87.39" cy="23.43" r="1.85" fill="#f02020"/>
<circle cx="93.34" cy="23.52" r="1.85" fill="#f02020"/>
<circle cx="99.29" cy="23.81" r="1.85" fill="#f02020"/>
<circle cx="105.24" cy="24.64" r="1.85" fill="#f02020"/>
<circle cx="111.19" cy="26.69" r="1.85" fill="#f02020"/>
<circle cx="117.14" cy="31.08" r="1.85" fill="#f02020"/>
<circle cx="123.09" cy="39.27" r="1.85" fill="#f02020"/>
<circle cx="129.04" cy="52.57" r="1.85" fill="#f02020"/>
<circle cx="134.99" cy="71.39" r="1.85" fill="#f02020"/>
<circle cx="140.94" cy="94.55" r="1.85" fill="#f02020"/>
<circle cx="146.88" cy="119.38" r="1.85" fill="#f02020"/>
<circle cx="152.83" cy="142.55" r="1.85" fill="#f02020"/>
<circle cx="158.78" cy="161.37" r="1.85" fill="#f02020"/>
<circle cx="164.73" cy="174.67" r="1.85" fill="#f02020"/>
<circle cx="170.68" cy="182.86" r="1.85" fill="#f02020"/>
<circle cx="176.63" cy="187.25" r="1.85" fill="#f02020"/>
<circle cx="182.58" cy="189.30" r="1.85" fill="#f02020"/>
<circle cx="188.53" cy="190.13" r="1.85" fill="#f02020"/>
<circle cx="194.48" cy="190.42" r="1.85" fill="#f02020"/>
<circle cx="200.43" cy="190.51" r="1.85" fill="#f02020"/>
<circle cx="206.37" cy="190.54" r="1.85" fill="#f02020"/>
<circle cx="212.32" cy="190.54" r="1.85" fill="#f02020"/>
<circle cx="218.27" cy="190.54" r="1.85" fill="#f02020"/>
<circle cx="224.22" cy="190.54" r="1.85" fill="#f02020"/>
<circle cx="230.17" cy="190.51" r="1.85" fill="#f02020"/>
<circle cx="236.12" cy="190.42" r="1.85" fill="#f02020"/>
<circle cx="242.07" cy="190.11" r="1.85" fill="#f02020"/>
<circle cx="248.02" cy="189.25" r="1.85" fill="#f02020"/>
<circle cx="253.97" cy="187.14" r="1.85" fill="#f02020"/>
<circle cx="259.92" cy="182.63" r="1.85" fill="#f02020"/>
<circle cx="265.86" cy="174.27" r="1.85" fill="#f02020"/>
<circle cx="271.81" cy="160.74" r="1.85" fill="#f02020"/>
<circle cx="277.76" cy="141.71" r="1.85" fill="#f02020"/>
<circle cx="283.71" cy="118.41" r="1.85" fill="#f02020"/>
<circle cx="289.66" cy="93.57" r="1.85" fill="#f02020"/>
<circle cx="295.61" cy="70.52" r="1.85" fill="#f02020"/>
<circle cx="301.56" cy="51.91" r="1.85" fill="#f02020"/>
<circle cx="307.51" cy="38.83" r="1.85" fill="#f02020"/>
<circle cx="313.46" cy="30.82" r="1.85" fill="#f02020"/>
<circle cx="319.40" cy="26.56" r="1.85" fill="#f02020"/>
<circle cx="325.35" cy="24.59" r="1.85" fill="#f02020"/>
<circle cx="331.30" cy="23.79" r="1.85" fill="#f02020"/>
<circle cx="337.25" cy="23.51" r="1.85" fill="#f02020"/>
<circle cx="343.20" cy="23.43" r="1.85" fill="#f02020"/>
<circle cx="349.15" cy="23.40" r="1.85" fill="#f02020"/>
<circle cx="355.10" cy="23.40" r="1.85" fill="#f02020"/>
<circle cx="361.05" cy="23.40" r="1.85" fill="#f02020"/>
<circle cx="367.00" cy="23.40" r="1.85" fill="#f02020"/>
<circle cx="372.95" cy="23.40" r="1.85" fill="#f02020"/>
<circle cx="378.89" cy="23.40" r="1.85" fill="#f02020"/>
<circle cx="384.84" cy="23.40" r="1.85" fill="#f02020"/>
<circle cx="390.79" cy="23.40" r="1.85" fill="#f02020"/>
<circle cx="396.74" cy="23.40" r="1.85" fill="#f02020"/>
<circle cx="402.69" cy="23.43" r="1.85" fill="#f02020"/>
<circle cx="408.64" cy="23.52" r="1.85" fill="#f02020"/>
<circle cx="414.59" cy="23.82" r="1.85" fill="#f02020"/>
<circle cx="420.54" cy="24.65" r="1.85" fill="#f02020"/>
<circle cx="426.49" cy="26.72" r="1.85" fill="#f02020"/>
<circle cx="432.44" cy="31.15" r="1.85" fill="#f02020"/>
<circle cx="438.38" cy="39.42" r="1.85" fill="#f02020"/>
<circle cx="444.33" cy="52.86" r="1.85" fill="#f02020"/>
<circle cx="450.28" cy="71.86" r="1.85" fill="#f02020"/>
<circle cx="456.23" cy="95.26" r="1.85" fill="#f02020"/>
<circle cx="462.18" cy="120.33" r="1.85" fill="#f02020"/>
<circle cx="468.13" cy="143.72" r="1.85" fill="#f02020"/>
<circle cx="474.08" cy="162.72" r="1.85" fill="#f02020"/>
<circle cx="480.03" cy="176.16" r="1.85" fill="#f02020"/>
<circle cx="485.98" cy="184.40" r="1.85" fill="#f02020"/>
<circle cx="491.93" cy="188.76" r="1.85" fill="#f02020"/>
<circle cx="497.88" cy="190.56" r="1.85" fill="#f02020"/>
<circle cx="503.82" cy="190.57" r="1.85" fill="#f02020"/>
<circle cx="509.77" cy="188.79" r="1.85" fill="#f02020"/>
<circle cx="515.72" cy="184.48" r="1.85" fill="#f02020"/>
<circle cx="521.67" cy="176.28" r="1.85" fill="#f02020"/>
<circle cx="527.62" cy="162.91" r="1.85" fill="#f02020"/>
<circle cx="533.57" cy="143.96" r="1.85" fill="#f02020"/>
<circle cx="539.52" cy="120.59" r="1.85" fill="#f02020"/>
<circle cx="545.47" cy="95.50" r="1.85" fill="#f02020"/>
<circle cx="551.42" cy="72.06" r="1.85" fill="#f02020"/>
<circle cx="557.37" cy="53.00" r="1.85" fill="#f02020"/>
<circle cx="563.31" cy="39.51" r="1.85" fill="#f02020"/>
<circle cx="569.26" cy="31.20" r="1.85" fill="#f02020"/>
<circle cx="575.21" cy="26.74" r="1.85" fill="#f02020"/>
<circle cx="581.16" cy="24.66" r="1.85" fill="#f02020"/>
<circle cx="587.11" cy="23.82" r="1.85" fill="#f02020"/>
<circle cx="593.06" cy="23.52" r="1.85" fill="#f02020"/>
<circle cx="599.01" cy="23.43" r="1.85" fill="#f02020"/>
<circle cx="604.96" cy="23.40" r="1.85" fill="#f02020"/>
<circle cx="610.91" cy="23.40" r="1.85" fill="#f02020"/>
<circle cx="616.86" cy="23.40" r="1.85" fill="#f02020"/>
<circle cx="622.80" cy="23.40" r="1.85" fill="#f02020"/>
<circle cx="628.75" cy="23.40" r="1.85" fill="#f02020"/>
<circle cx="634.70" cy="23.40" r="1.85" fill="#f02020"/>
<path d="M57.65,23.40 L63.60,23.40 L69.55,23.40 L75.50,23.40 L81.44,23.40 L87.39,23.42 L93.34,23.50 L99.29,23.76 L105.24,24.50 L111.19,26.36 L117.14,30.41 L123.09,38.10 L129.04,50.80 L134.99,69.04 L140.94,91.86 L146.88,116.68 L152.83,140.20 L158.78,159.59 L164.73,173.51 L170.68,182.20 L176.63,186.92 L182.58,189.15 L188.53,190.07 L194.48,190.40 L200.43,190.51 L206.37,190.53 L212.32,190.54 L218.27,190.54 L224.22,190.54 L230.17,190.51 L236.12,190.43 L242.07,190.15 L248.02,189.36 L253.97,187.40 L259.92,183.16 L265.86,175.19 L271.81,162.17 L277.76,143.61 L283.71,120.61 L289.66,95.78 L295.61,72.46 L301.56,53.38 L307.51,39.80 L313.46,31.38 L319.40,26.84 L325.35,24.71 L331.30,23.84 L337.25,23.53 L343.20,23.43 L349.15,23.40 L355.10,23.40 L361.05,23.40 L367.00,23.40 L372.95,23.40 L378.89,23.40 L384.84,23.40 L390.79,23.40 L396.74,23.40 L402.69,23.42 L408.64,23.50 L414.59,23.76 L420.54,24.51 L426.49,26.39 L432.44,30.48 L438.38,38.25 L444.33,51.07 L450.28,69.49 L456.23,92.53 L462.18,117.60 L468.13,141.35 L474.08,160.94 L480.03,174.98 L485.98,183.74 L491.93,188.44 L497.88,190.46 L503.82,190.64 L509.77,189.03 L515.72,184.99 L521.67,177.20 L527.62,164.32 L533.57,145.85 L539.52,122.80 L545.47,97.74 L551.42,74.04 L557.37,54.51 L563.31,40.52 L569.26,31.78 L575.21,27.04 L581.16,24.79 L587.11,23.87 L593.06,23.54 L599.01,23.43 L604.96,23.40 L610.91,23.40 L616.86,23.40 L622.80,23.40 L628.75,23.40 L634.70,23.40" fill="none" stroke="#1868e0" stroke-width="0.47"/>
<path d="M57.65,20.41 L59.90,24.96 L55.40,24.96Z" fill="#1c68e0"/>
<path d="M63.60,20.41 L65.85,24.96 L61.35,24.96Z" fill="#1c68e0"/>
<path d="M69.55,20.41 L71.80,24.96 L67.30,24.96Z" fill="#1c68e0"/>
<path d="M75.50,20.41 L77.75,24.96 L73.24,24.96Z" fill="#1c68e0"/>
<path d="M81.44,20.41 L83.70,24.96 L79.19,24.96Z" fill="#1c68e0"/>
<path d="M87.39,20.43 L89.65,24.98 L85.14,24.98Z" fill="#1c68e0"/>
<path d="M93.34,20.51 L95.59,25.06 L91.09,25.06Z" fill="#1c68e0"/>
<path d="M99.29,20.77 L101.54,25.32 L97.04,25.32Z" fill="#1c68e0"/>
<path d="M105.24,21.51 L107.49,26.06 L102.99,26.06Z" fill="#1c68e0"/>
<path d="M111.19,23.37 L113.44,27.92 L108.94,27.92Z" fill="#1c68e0"/>
<path d="M117.14,27.42 L119.39,31.97 L114.89,31.97Z" fill="#1c68e0"/>
<path d="M123.09,35.11 L125.34,39.66 L120.84,39.66Z" fill="#1c68e0"/>
<path d="M129.04,47.81 L131.29,52.36 L126.79,52.36Z" fill="#1c68e0"/>
<path d="M134.99,66.05 L137.24,70.60 L132.73,70.60Z" fill="#1c68e0"/>
<path d="M140.94,88.87 L143.19,93.42 L138.68,93.42Z" fill="#1c68e0"/>
<path d="M146.88,113.69 L149.14,118.24 L144.63,118.24Z" fill="#1c68e0"/>
<path d="M152.83,137.21 L155.08,141.76 L150.58,141.76Z" fill="#1c68e0"/>
<path d="M158.78,156.60 L161.03,161.15 L156.53,161.15Z" fill="#1c68e0"/>
<path d="M164.73,170.52 L166.98,175.07 L162.48,175.07Z" fill="#1c68e0"/>
<path d="M170.68,179.21 L172.93,183.76 L168.43,183.76Z" fill="#1c68e0"/>
<path d="M176.63,183.93 L178.88,188.48 L174.38,188.48Z" fill="#1c68e0"/>
<path d="M182.58,186.16 L184.83,190.71 L180.33,190.71Z" fill="#1c68e0"/>
<path d="M188.53,187.08 L190.78,191.63 L186.28,191.63Z" fill="#1c68e0"/>
<path d="M194.48,187.41 L196.73,191.96 L192.22,191.96Z" fill="#1c68e0"/>
<path d="M200.43,187.52 L202.68,192.07 L198.17,192.07Z" fill="#1c68e0"/>
<path d="M206.37,187.54 L208.63,192.09 L204.12,192.09Z" fill="#1c68e0"/>
<path d="M212.32,187.55 L214.57,192.10 L210.07,192.10Z" fill="#1c68e0"/>
<path d="M218.27,187.55 L220.52,192.10 L216.02,192.10Z" fill="#1c68e0"/>
<path d="M224.22,187.55 L226.47,192.10 L221.97,192.10Z" fill="#1c68e0"/>
<path d="M230.17,187.52 L232.42,192.07 L227.92,192.07Z" fill="#1c68e0"/>
<path d="M236.12,187.44 L238.37,191.99 L233.87,191.99Z" fill="#1c68e0"/>
<path d="M242.07,187.16 L244.32,191.71 L239.82,191.71Z" fill="#1c68e0"/>
<path d="M248.02,186.37 L250.27,190.92 L245.77,190.92Z" fill="#1c68e0"/>
<path d="M253.97,184.41 L256.22,188.96 L251.71,188.96Z" fill="#1c68e0"/>
<path d="M259.92,180.17 L262.17,184.72 L257.66,184.72Z" fill="#1c68e0"/>
<path d="M265.86,172.20 L268.12,176.75 L263.61,176.75Z" fill="#1c68e0"/>
<path d="M271.81,159.18 L274.06,163.73 L269.56,163.73Z" fill="#1c68e0"/>
<path d="M277.76,140.62 L280.01,145.17 L275.51,145.17Z" fill="#1c68e0"/>
<path d="M283.71,117.62 L285.96,122.17 L281.46,122.17Z" fill="#1c68e0"/>
<path d="M289.66,92.79 L291.91,97.34 L287.41,97.34Z" fill="#1c68e0"/>
<path d="M295.61,69.47 L297.86,74.02 L293.36,74.02Z" fill="#1c68e0"/>
<path d="M301.56,50.39 L303.81,54.94 L299.31,54.94Z" fill="#1c68e0"/>
<path d="M307.51,36.81 L309.76,41.36 L305.26,41.36Z" fill="#1c68e0"/>
<path d="M313.46,28.39 L315.71,32.94 L311.20,32.94Z" fill="#1c68e0"/>
<path d="M319.40,23.85 L321.66,28.40 L317.15,28.40Z" fill="#1c68e0"/>
<path d="M325.35,21.72 L327.61,26.27 L323.10,26.27Z" fill="#1c68e0"/>
<path d="M331.30,20.85 L333.55,25.40 L329.05,25.40Z" fill="#1c68e0"/>
<path d="M337.25,20.54 L339.50,25.09 L335.00,25.09Z" fill="#1c68e0"/>
<path d="M343.20,20.44 L345.45,24.99 L340.95,24.99Z" fill="#1c68e0"/>
<path d="M349.15,20.41 L351.40,24.96 L346.90,24.96Z" fill="#1c68e0"/>
<path d="M355.10,20.41 L357.35,24.96 L352.85,24.96Z" fill="#1c68e0"/>
<path d="M361.05,20.41 L363.30,24.96 L358.80,24.96Z" fill="#1c68e0"/>
<path d="M367.00,20.41 L369.25,24.96 L364.75,24.96Z" fill="#1c68e0"/>
<path d="M372.95,20.41 L375.20,24.96 L370.69,24.96Z" fill="#1c68e0"/>
<path d="M378.89,20.41 L381.15,24.96 L376.64,24.96Z" fill="#1c68e0"/>
<path d="M384.84,20.41 L387.10,24.96 L382.59,24.96Z" fill="#1c68e0"/>
<path d="M390.79,20.41 L393.04,24.96 L388.54,24.96Z" fill="#1c68e0"/>
<path d="M396.74,20.41 L398.99,24.96 L394.49,24.96Z" fill="#1c68e0"/>
<path d="M402.69,20.43 L404.94,24.98 L400.44,24.98Z" fill="#1c68e0"/>
<path d="M408.64,20.51 L410.89,25.06 L406.39,25.06Z" fill="#1c68e0"/>
<path d="M414.59,20.77 L416.84,25.32 L412.34,25.32Z" fill="#1c68e0"/>
<path d="M420.54,21.52 L422.79,26.07 L418.29,26.07Z" fill="#1c68e0"/>
<path d="M426.49,23.40 L428.74,27.95 L424.24,27.95Z" fill="#1c68e0"/>
<path d="M432.44,27.49 L434.69,32.04 L430.18,32.04Z" fill="#1c68e0"/>
<path d="M438.38,35.26 L440.64,39.81 L436.13,39.81Z" fill="#1c68e0"/>
<path d="M444.33,48.08 L446.59,52.63 L442.08,52.63Z" fill="#1c68e0"/>
<path d="M450.28,66.50 L452.53,71.05 L448.03,71.05Z" fill="#1c68e0"/>
<path d="M456.23,89.54 L458.48,94.09 L453.98,94.09Z" fill="#1c68e0"/>
<path d="M462.18,114.61 L464.43,119.16 L459.93,119.16Z" fill="#1c68e0"/>
<path d="M468.13,138.36 L470.38,142.91 L465.88,142.91Z" fill="#1c68e0"/>
<path d="M474.08,157.95 L476.33,162.50 L471.83,162.50Z" fill="#1c68e0"/>
<path d="M480.03,171.99 L482.28,176.54 L477.78,176.54Z" fill="#1c68e0"/>
<path d="M485.98,180.75 L488.23,185.30 L483.73,185.30Z" fill="#1c68e0"/>
<path d="M491.93,185.45 L494.18,190.00 L489.67,190.00Z" fill="#1c68e0"/>
<path d="M497.88,187.47 L500.13,192.02 L495.62,192.02Z" fill="#1c68e0"/>
<path d="M503.82,187.65 L506.08,192.20 L501.57,192.20Z" fill="#1c68e0"/>
<path d="M509.77,186.04 L512.02,190.59 L507.52,190.59Z" fill="#1c68e0"/>
<path d="M515.72,182.00 L517.97,186.55 L513.47,186.55Z" fill="#1c68e0"/>
<path d="M521.67,174.21 L523.92,178.76 L519.42,178.76Z" fill="#1c68e0"/>
<path d="M527.62,161.33 L529.87,165.88 L525.37,165.88Z" fill="#1c68e0"/>
<path d="M533.57,142.86 L535.82,147.41 L531.32,147.41Z" fill="#1c68e0"/>
<path d="M539.52,119.81 L541.77,124.36 L537.27,124.36Z" fill="#1c68e0"/>
<path d="M545.47,94.75 L547.72,99.30 L543.22,99.30Z" fill="#1c68e0"/>
<path d="M551.42,71.05 L553.67,75.60 L549.16,75.60Z" fill="#1c68e0"/>
<path d="M557.37,51.52 L559.62,56.07 L555.11,56.07Z" fill="#1c68e0"/>
<path d="M563.31,37.53 L565.57,42.08 L561.06,42.08Z" fill="#1c68e0"/>
<path d="M569.26,28.79 L571.51,33.34 L567.01,33.34Z" fill="#1c68e0"/>
<path d="M575.21,24.05 L577.46,28.60 L572.96,28.60Z" fill="#1c68e0"/>
<path d="M581.16,21.80 L583.41,26.35 L578.91,26.35Z" fill="#1c68e0"/>
<path d="M587.11,20.88 L589.36,25.43 L584.86,25.43Z" fill="#1c68e0"/>
<path d="M593.06,20.55 L595.31,25.10 L590.81,25.10Z" fill="#1c68e0"/>
<path d="M599.01,20.44 L601.26,24.99 L596.76,24.99Z" fill="#1c68e0"/>
<path d="M604.96,20.41 L607.21,24.96 L602.71,24.96Z" fill="#1c68e0"/>
<path d="M610.91,20.41 L613.16,24.96 L608.65,24.96Z" fill="#1c68e0"/>
<path d="M616.86,20.41 L619.11,24.96 L614.60,24.96Z" fill="#1c68e0"/>
<path d="M622.80,20.41 L625.06,24.96 L620.55,24.96Z" fill="#1c68e0"/>
<path d="M628.75,20.41 L631.00,24.96 L626.50,24.96Z" fill="#1c68e0"/>
<path d="M634.70,20.41 L636.95,24.96 L632.45,24.96Z" fill="#1c68e0"/>
<path d="M57.65,23.40 L63.60,23.40 L69.55,23.40 L75.50,23.40 L81.44,23.40 L87.39,23.43 L93.34,23.52 L99.29,23.81 L105.24,24.64 L111.19,26.69 L117.14,31.08 L123.09,39.27 L129.04,52.57 L134.99,71.39 L140.94,94.55 L146.88,119.38 L152.83,142.55 L158.78,161.37 L164.73,174.67 L170.68,182.86 L176.63,187.25 L182.58,189.30 L188.53,190.13 L194.48,190.42 L200.43,190.51 L206.37,190.54 L212.32,190.54 L218.27,190.54 L224.22,190.54 L230.17,190.51 L236.12,190.43 L242.07,190.15 L248.02,189.36 L253.97,187.40 L259.92,183.16 L265.86,175.19 L271.81,162.17 L277.76,143.61 L283.71,120.61 L289.66,95.78 L295.61,72.46 L301.56,53.38 L307.51,39.80 L313.46,31.38 L319.40,26.84 L325.35,24.71 L331.30,23.84 L337.25,23.53 L343.20,23.43 L349.15,23.40 L355.10,23.40 L361.05,23.40 L367.00,23.40 L372.95,23.40 L378.89,23.40 L384.84,23.40 L390.79,23.40 L396.74,23.40 L402.69,23.43 L408.64,23.52 L414.59,23.82 L420.54,24.65 L426.49,26.72 L432.44,31.15 L438.38,39.42 L444.33,52.86 L450.28,71.86 L456.23,95.26 L462.18,120.33 L468.13,143.72 L474.08,162.72 L480.03,176.16 L485.98,184.40 L491.93,188.76 L497.88,190.56 L503.82,190.64 L509.77,189.03 L515.72,184.99 L521.67,177.20 L527.62,164.32 L533.57,145.85 L539.52,122.80 L545.47,97.74 L551.42,74.04 L557.37,54.51 L563.31,40.52 L569.26,31.78 L575.21,27.04 L581.16,24.79 L587.11,23.87 L593.06,23.54 L599.01,23.43 L604.96,23.40 L610.91,23.40 L616.86,23.40 L622.80,23.40 L628.75,23.40 L634.70,23.40" fill="none" stroke="#10f020" stroke-width="0.50"/>
<path d="M57.65,26.39 L59.90,21.84 L55.40,21.84Z" fill="#04fb10"/>
<path d="M63.60,26.39 L65.85,21.84 L61.35,21.84Z" fill="#04fb10"/>
<path d="M69.55,26.39 L71.80,21.84 L67.30,21.84Z" fill="#04fb10"/>
<path d="M75.50,26.39 L77.75,21.84 L73.24,21.84Z" fill="#04fb10"/>
<path d="M81.44,26.39 L83.70,21.84 L79.19,21.84Z" fill="#04fb10"/>
<path d="M87.39,26.42 L89.65,21.87 L85.14,21.87Z" fill="#04fb10"/>
<path d="M93.34,26.51 L95.59,21.96 L91.09,21.96Z" fill="#04fb10"/>
<path d="M99.29,26.80 L101.54,22.25 L97.04,22.25Z" fill="#04fb10"/>
<path d="M105.24,27.63 L107.49,23.08 L102.99,23.08Z" fill="#04fb10"/>
<path d="M111.19,29.68 L113.44,25.13 L108.94,25.13Z" fill="#04fb10"/>
<path d="M117.14,34.07 L119.39,29.52 L114.89,29.52Z" fill="#04fb10"/>
<path d="M123.09,42.26 L125.34,37.71 L120.84,37.71Z" fill="#04fb10"/>
<path d="M129.04,55.56 L131.29,51.01 L126.79,51.01Z" fill="#04fb10"/>
<path d="M134.99,74.38 L137.24,69.83 L132.73,69.83Z" fill="#04fb10"/>
<path d="M140.94,97.54 L143.19,92.99 L138.68,92.99Z" fill="#04fb10"/>
<path d="M146.88,122.37 L149.14,117.82 L144.63,117.82Z" fill="#04fb10"/>
<path d="M152.83,145.54 L155.08,140.99 L150.58,140.99Z" fill="#04fb10"/>
<path d="M158.78,164.36 L161.03,159.81 L156.53,159.81Z" fill="#04fb10"/>
<path d="M164.73,177.66 L166.98,173.11 L162.48,173.11Z" fill="#04fb10"/>
<path d="M170.68,185.85 L172.93,181.30 L168.43,181.30Z" fill="#04fb10"/>
<path d="M176.63,190.24 L178.88,185.69 L174.38,185.69Z" fill="#04fb10"/>
<path d="M182.58,192.29 L184.83,187.74 L180.33,187.74Z" fill="#04fb10"/>
<path d="M188.53,193.12 L190.78,188.57 L186.28,188.57Z" fill="#04fb10"/>
<path d="M194.48,193.41 L196.73,188.86 L192.22,188.86Z" fill="#04fb10"/>
<path d="M200.43,193.50 L202.68,188.95 L198.17,188.95Z" fill="#04fb10"/>
<path d="M206.37,193.53 L208.63,188.98 L204.12,188.98Z" fill="#04fb10"/>
<path d="M212.32,193.53 L214.57,188.98 L210.07,188.98Z" fill="#04fb10"/>
<path d="M218.27,193.53 L220.52,188.98 L216.02,188.98Z" fill="#04fb10"/>
<path d="M224.22,193.53 L226.47,188.98 L221.97,188.98Z" fill="#04fb10"/>
<path d="M230.17,193.50 L232.42,188.95 L227.92,188.95Z" fill="#04fb10"/>
<path d="M236.12,193.42 L238.37,188.87 L233.87,188.87Z" fill="#04fb10"/>
<path d="M242.07,193.14 L244.32,188.59 L239.82,188.59Z" fill="#04fb10"/>
<path d="M248.02,192.35 L250.27,187.80 L245.77,187.80Z" fill="#04fb10"/>
<path d="M253.97,190.39 L256.22,185.84 L251.71,185.84Z" fill="#04fb10"/>
<path d="M259.92,186.15 L262.17,181.60 L257.66,181.60Z" fill="#04fb10"/>
<path d="M265.86,178.18 L268.12,173.63 L263.61,173.63Z" fill="#04fb10"/>
<path d="M271.81,165.16 L274.06,160.61 L269.56,160.61Z" fill="#04fb10"/>
<path d="M277.76,146.60 L280.01,142.05 L275.51,142.05Z" fill="#04fb10"/>
<path d="M283.71,123.60 L285.96,119.05 L281.46,119.05Z" fill="#04fb10"/>
<path d="M289.66,98.77 L291.91,94.22 L287.41,94.22Z" fill="#04fb10"/>
<path d="M295.61,75.45 L297.86,70.90 L293.36,70.90Z" fill="#04fb10"/>
<path d="M301.56,56.37 L303.81,51.82 L299.31,51.82Z" fill="#04fb10"/>
<path d="M307.51,42.79 L309.76,38.24 L305.26,38.24Z" fill="#04fb10"/>
<path d="M313.46,34.37 L315.71,29.82 L311.20,29.82Z" fill="#04fb10"/>
<path d="M319.40,29.83 L321.66,25.28 L317.15,25.28Z" fill="#04fb10"/>
<path d="M325.35,27.70 L327.61,23.15 L323.10,23.15Z" fill="#04fb10"/>
<path d="M331.30,26.83 L333.55,22.28 L329.05,22.28Z" fill="#04fb10"/>
<path d="M337.25,26.52 L339.50,21.97 L335.00,21.97Z" fill="#04fb10"/>
<path d="M343.20,26.42 L345.45,21.87 L340.95,21.87Z" fill="#04fb10"/>
<path d="M349.15,26.39 L351.40,21.84 L346.90,21.84Z" fill="#04fb10"/>
<path d="M355.10,26.39 L357.35,21.84 L352.85,21.84Z" fill="#04fb10"/>
<path d="M361.05,26.39 L363.30,21.84 L358.80,21.84Z" fill="#04fb10"/>
<path d="M367.00,26.39 L369.25,21.84 L364.75,21.84Z" fill="#04fb10"/>
<path d="M372.95,26.39 L375.20,21.84 L370.69,21.84Z" fill="#04fb10"/>
<path d="M378.89,26.39 L381.15,21.84 L376.64,21.84Z" fill="#04fb10"/>
<path d="M384.84,26.39 L387.10,21.84 L382.59,21.84Z" fill="#04fb10"/>
<path d="M390.79,26.39 L393.04,21.84 L388.54,21.84Z" fill="#04fb10"/>
<path d="M396.74,26.39 L398.99,21.84 L394.49,21.84Z" fill="#04fb10"/>
<path d="M402.69,26.42 L404.94,21.87 L400.44,21.87Z" fill="#04fb10"/>
<path d="M408.64,26.51 L410.89,21.96 L406.39,21.96Z" fill="#04fb10"/>
<path d="M414.59,26.81 L416.84,22.26 L412.34,22.26Z" fill="#04fb10"/>
<path d="M420.54,27.64 L422.79,23.09 L418.29,23.09Z" fill="#04fb10"/>
<path d="M426.49,29.71 L428.74,25.16 L424.24,25.16Z" fill="#04fb10"/>
<path d="M432.44,34.14 L434.69,29.59 L430.18,29.59Z" fill="#04fb10"/>
<path d="M438.38,42.41 L440.64,37.86 L436.13,37.86Z" fill="#04fb10"/>
<path d="M444.33,55.85 L446.59,51.30 L442.08,51.30Z" fill="#04fb10"/>
<path d="M450.28,74.85 L452.53,70.30 L448.03,70.30Z" fill="#04fb10"/>
<path d="M456.23,98.25 L458.48,93.70 L453.98,93.70Z" fill="#04fb10"/>
<path d="M462.18,123.32 L464.43,118.77 L459.93,118.77Z" fill="#04fb10"/>
<path d="M468.13,146.71 L470.38,142.16 L465.88,142.16Z" fill="#04fb10"/>
<path d="M474.08,165.71 L476.33,161.16 L471.83,161.16Z" fill="#04fb10"/>
<path d="M480.03,179.15 L482.28,174.60 L477.78,174.60Z" fill="#04fb10"/>
<path d="M485.98,187.39 L488.23,182.84 L483.73,182.84Z" fill="#04fb10"/>
<path d="M491.93,191.75 L494.18,187.20 L489.67,187.20Z" fill="#04fb10"/>
<path d="M497.88,193.55 L500.13,189.00 L495.62,189.00Z" fill="#04fb10"/>
<path d="M503.82,193.63 L506.08,189.08 L501.57,189.08Z" fill="#04fb10"/>
<path d="M509.77,192.02 L512.02,187.47 L507.52,187.47Z" fill="#04fb10"/>
<path d="M515.72,187.98 L517.97,183.43 L513.47,183.43Z" fill="#04fb10"/>
<path d="M521.67,180.19 L523.92,175.64 L519.42,175.64Z" fill="#04fb10"/>
<path d="M527.62,167.31 L529.87,162.76 L525.37,162.76Z" fill="#04fb10"/>
<path d="M533.57,148.84 L535.82,144.29 L531.32,144.29Z" fill="#04fb10"/>
<path d="M539.52,125.79 L541.77,121.24 L537.27,121.24Z" fill="#04fb10"/>
<path d="M545.47,100.73 L547.72,96.18 L543.22,96.18Z" fill="#04fb10"/>
<path d="M551.42,77.03 L553.67,72.48 L549.16,72.48Z" fill="#04fb10"/>
<path d="M557.37,57.50 L559.62,52.95 L555.11,52.95Z" fill="#04fb10"/>
<path d="M563.31,43.51 L565.57,38.96 L561.06,38.96Z" fill="#04fb10"/>
<path d="M569.26,34.77 L571.51,30.22 L567.01,30.22Z" fill="#04fb10"/>
<path d="M575.21,30.03 L577.46,25.48 L572.96,25.48Z" fill="#04fb10"/>
<path d="M581.16,27.78 L583.41,23.23 L578.91,23.23Z" fill="#04fb10"/>
<path d="M587.11,26.86 L589.36,22.31 L584.86,22.31Z" fill="#04fb10"/>
<path d="M593.06,26.53 L595.31,21.98 L590.81,21.98Z" fill="#04fb10"/>
<path d="M599.01,26.42 L601.26,21.87 L596.76,21.87Z" fill="#04fb10"/>
<path d="M604.96,26.39 L607.21,21.84 L602.71,21.84Z" fill="#04fb10"/>
<path d="M610.91,26.39 L613.16,21.84 L608.65,21.84Z" fill="#04fb10"/>
<path d="M616.86,26.39 L619.11,21.84 L614.60,21.84Z" fill="#04fb10"/>
<path d="M622.80,26.39 L625.06,21.84 L620.55,21.84Z" fill="#04fb10"/>
<path d="M628.75,26.39 L631.00,21.84 L626.50,21.84Z" fill="#04fb10"/>
<path d="M634.70,26.39 L636.95,21.84 L632.45,21.84Z" fill="#04fb10"/>
<g stroke="#2b2b2b" stroke-width="0.75" fill="none">
<path d="M51.70,5.50 H646.60 V220.25 H51.70 Z" stroke-width="0.9"/>
<path d="M48.70,5.50 H51.70"/>
<path d="M45.70,23.40 H51.70"/>
<path d="M48.70,41.29 H51.70"/>
<path d="M45.70,59.19 H51.70"/>
<path d="M48.70,77.08 H51.70"/>
<path d="M45.70,94.98 H51.70"/>
<path d="M48.70,112.88 H51.70"/>
<path d="M45.70,130.77 H51.70"/>
<path d="M48.70,148.67 H51.70"/>
<path d="M45.70,166.56 H51.70"/>
<path d="M48.70,184.46 H51.70"/>
<path d="M45.70,202.35 H51.70"/>
<path d="M48.70,220.25 H51.70"/>
<path d="M646.60,220.25 H652.10"/>
<path d="M646.60,198.78 H649.60"/>
<path d="M646.60,177.30 H652.10"/>
<path d="M646.60,155.82 H649.60"/>
<path d="M646.60,134.35 H652.10"/>
<path d="M646.60,112.88 H649.60"/>
<path d="M646.60,91.40 H652.10"/>
<path d="M646.60,69.93 H649.60"/>
<path d="M646.60,48.45 H652.10"/>
<path d="M646.60,26.97 H649.60"/>
<path d="M646.60,5.50 H652.10"/>
<path d="M51.70,220.25 V225.55"/>
<path d="M69.55,220.25 V222.95"/>
<path d="M87.39,220.25 V225.55"/>
<path d="M105.24,220.25 V222.95"/>
<path d="M123.09,220.25 V225.55"/>
<path d="M140.94,220.25 V222.95"/>
<path d="M158.78,220.25 V225.55"/>
<path d="M176.63,220.25 V222.95"/>
<path d="M194.48,220.25 V225.55"/>
<path d="M212.32,220.25 V222.95"/>
<path d="M230.17,220.25 V225.55"/>
<path d="M248.02,220.25 V222.95"/>
<path d="M265.86,220.25 V225.55"/>
<path d="M283.71,220.25 V222.95"/>
<path d="M301.56,220.25 V225.55"/>
<path d="M319.40,220.25 V222.95"/>
<path d="M337.25,220.25 V225.55"/>
<path d="M355.10,220.25 V222.95"/>
<path d="M372.95,220.25 V225.55"/>
<path d="M390.79,220.25 V222.95"/>
<path d="M408.64,220.25 V225.55"/>
<path d="M426.49,220.25 V222.95"/>
<path d="M444.33,220.25 V225.55"/>
<path d="M462.18,220.25 V222.95"/>
<path d="M480.03,220.25 V225.55"/>
<path d="M497.88,220.25 V222.95"/>
<path d="M515.72,220.25 V225.55"/>
<path d="M533.57,220.25 V222.95"/>
<path d="M551.42,220.25 V225.55"/>
<path d="M569.26,220.25 V222.95"/>
<path d="M587.11,220.25 V225.55"/>
<path d="M604.96,220.25 V222.95"/>
<path d="M622.80,220.25 V225.55"/>
<path d="M640.65,220.25 V222.95"/>
</g>
<g font-size="12.45" stroke="#000" stroke-width="0.18">
<text x="41.9" y="27.40" text-anchor="end">0</text>
<text x="41.9" y="63.19" text-anchor="end">500</text>
<text x="41.9" y="98.98" text-anchor="end">1000</text>
<text x="41.9" y="134.77" text-anchor="end">1500</text>
<text x="41.9" y="170.56" text-anchor="end">2000</text>
<text x="41.9" y="206.35" text-anchor="end">2500</text>
<text x="656.6" y="224.25">0</text>
<text x="656.6" y="181.30">10</text>
<text x="656.6" y="138.35">20</text>
<text x="656.6" y="95.40">30</text>
<text x="656.6" y="52.45">40</text>
<text x="656.6" y="9.50">50</text>
<text transform="translate(95.89,233.30) rotate(-45)" text-anchor="end" font-size="11.6">E6</text>
<text transform="translate(131.59,233.30) rotate(-45)" text-anchor="end" font-size="11.6">E12</text>
<text transform="translate(167.28,233.30) rotate(-45)" text-anchor="end" font-size="11.6">E18</text>
<text transform="translate(202.98,233.30) rotate(-45)" text-anchor="end" font-size="11.6">E24</text>
<text transform="translate(238.67,233.30) rotate(-45)" text-anchor="end" font-size="11.6">E30</text>
<text transform="translate(274.36,233.30) rotate(-45)" text-anchor="end" font-size="11.6">E36</text>
<text transform="translate(310.06,233.30) rotate(-45)" text-anchor="end" font-size="11.6">E42</text>
<text transform="translate(345.75,233.30) rotate(-45)" text-anchor="end" font-size="11.6">E48</text>
<text transform="translate(381.45,233.30) rotate(-45)" text-anchor="end" font-size="11.6">E54</text>
<text transform="translate(417.14,233.30) rotate(-45)" text-anchor="end" font-size="11.6">S6</text>
<text transform="translate(452.83,233.30) rotate(-45)" text-anchor="end" font-size="11.6">S12</text>
<text transform="translate(488.53,233.30) rotate(-45)" text-anchor="end" font-size="11.6">S18</text>
<text transform="translate(524.22,233.30) rotate(-45)" text-anchor="end" font-size="11.6">S24</text>
<text transform="translate(559.92,233.30) rotate(-45)" text-anchor="end" font-size="11.6">S30</text>
<text transform="translate(595.61,233.30) rotate(-45)" text-anchor="end" font-size="11.6">S36</text>
<text transform="translate(631.30,233.30) rotate(-45)" text-anchor="end" font-size="11.6">S42</text>
</g>
<text x="349.2" y="259.3" font-size="12.45" text-anchor="middle" stroke="#000" stroke-width="0.18">Observation point number</text>
<text transform="translate(9.3,113.1) rotate(-90)" font-size="12.45" text-anchor="middle" stroke="#000" stroke-width="0.18">Subsidence value/mm</text>
<text transform="translate(683.6,112.1) rotate(-90)" font-size="12.45" text-anchor="middle" stroke="#000" stroke-width="0.18">Absolute error/mm</text>
<g font-size="9.4" stroke="#000" stroke-width="0.18">
<path d="M132.9,12.55 H154.5" stroke="#444" stroke-width="0.5" fill="none"/>
<rect x="142.0" y="10.850000000000001" width="3.4" height="3.4" fill="#333" stroke="none"/>
<text x="156.9" y="15.75">Measured value</text>
<path d="M132.9,24.4 H154.5" stroke="#f03030" stroke-width="0.5" fill="none"/>
<circle cx="143.7" cy="24.4" r="2.1" fill="#f02020" stroke="none"/>
<text x="156.9" y="27.60">DE fitting value</text>
<path d="M132.9,36.65 H154.5" stroke="#1060e0" stroke-width="0.5" fill="none"/>
<path d="M143.7,34.15 L146.2,38.65 L141.2,38.65Z" fill="#1c68e0" stroke="none"/>
<text x="156.9" y="39.85">Huber-DE fitting value</text>
<path d="M132.9,48.4 H154.5" stroke="#10e020" stroke-width="0.5" fill="none"/>
<path d="M143.7,50.9 L146.2,46.4 L141.2,46.4Z" fill="#04fb10" stroke="none"/>
<text x="156.9" y="51.60">RANSAC-DE fitting value</text>
<rect x="150" y="59.0" width="21.3" height="9.90" fill="#f08080" stroke="#8a8a8a" stroke-width="0.6"/>
<text x="174.4" y="67.30">DE absolute error</text>
<rect x="150" y="71.2" width="21.3" height="9.60" fill="#7a7cf8" stroke="#8a8a8a" stroke-width="0.6"/>
<text x="174.4" y="79.35">Huber-DE absolute error</text>
<rect x="150" y="83.1" width="21.3" height="9.50" fill="#7cf884" stroke="#8a8a8a" stroke-width="0.6"/>
<text x="174.4" y="91.20">RANSAC-DE absolute error</text>
</g>
</svg>
</body></html>
